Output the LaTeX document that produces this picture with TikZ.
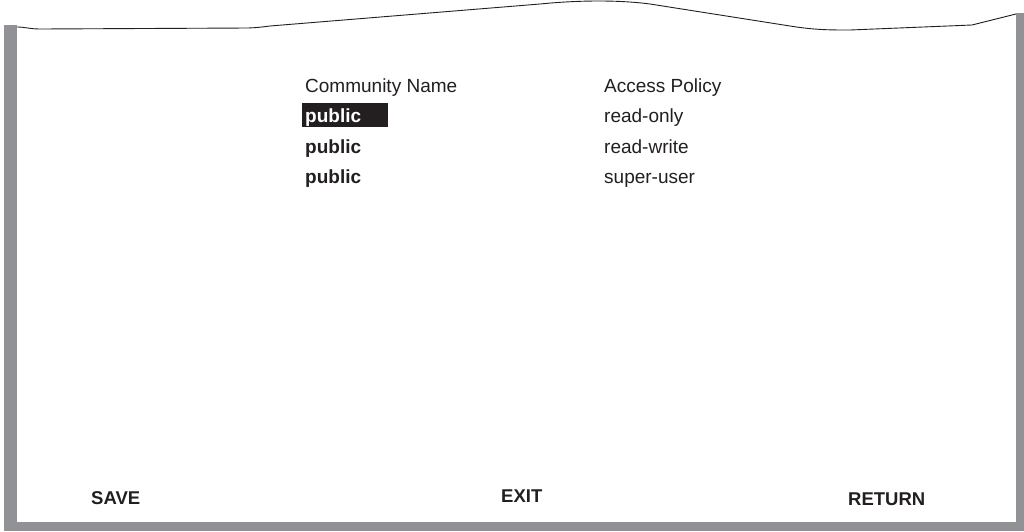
\documentclass[tikz,border=0pt]{standalone}
\usepackage{fontspec}
\setmainfont{Liberation Sans}
\definecolor{framegray}{RGB}{145,146,150}
\definecolor{ink}{RGB}{35,31,32}
\begin{document}
\begin{tikzpicture}[x=1pt,y=-1pt,
  label/.style={anchor=base west,inner sep=0pt,text=ink,font=\fontsize{19}{22}\selectfont},
  boldlabel/.style={label,font=\fontsize{19}{22}\selectfont\bfseries},
  button/.style={anchor=base west,inner sep=0pt,text=ink,font=\fontsize{18.5}{22}\selectfont\bfseries}]
\useasboundingbox[fill=white] (0,0) rectangle (1024,531);
% screen frame
\fill[framegray] (4,25) rectangle (17,531);
\fill[framegray] (1016,13) rectangle (1024,531);
\fill[framegray] (4,522) rectangle (1024,531);
% torn upper edge
\draw[ink,line width=0.9pt] (17,27) .. controls (25,27) and (30,29) .. (40,29) -- (248,28)
  .. controls (258,27.5) .. (270,26) -- (540,4)
  .. controls (580,0) and (620,0) .. (650,4) -- (790,26)
  .. controls (815,30) and (830,30) .. (850,30) -- (972,25) -- (1016,14);
% table headings
\node[label] (hname) at (305,92) {Community Name};
\node[label] (hpol) at (604,92) {Access Policy};
% selected entry
\fill[ink] (302,103) rectangle (388,127);
\node[boldlabel,text=white] (c1) at (305,122) {public};
\node[boldlabel] (c2) at (305,153) {public};
\node[boldlabel] (c3) at (305,183) {public};
\node[label] (p1) at (604,122) {read-only};
\node[label] (p2) at (604,153) {read-write};
\node[label] (p3) at (604,183) {super-user};
% command bar
\node[button] (save) at (91,504) {SAVE};
\node[button] (exit) at (501,502) {EXIT};
\node[button] (ret) at (848,505) {RETURN};
\end{tikzpicture}
\end{document}
